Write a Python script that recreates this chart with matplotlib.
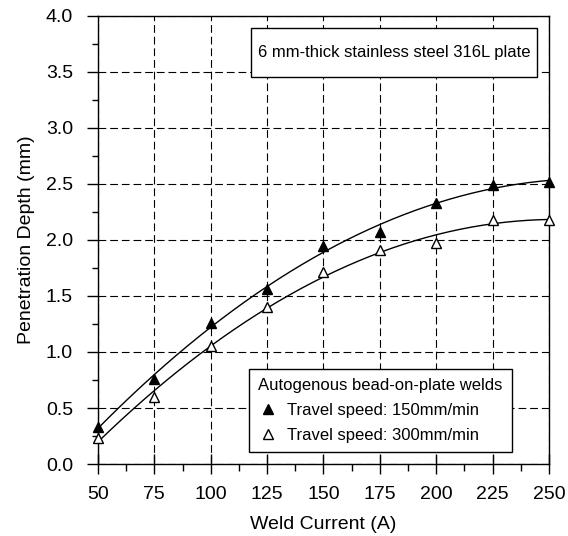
import numpy as np
import matplotlib.pyplot as plt
from matplotlib.lines import Line2D
from matplotlib.patches import Rectangle
from matplotlib.ticker import MultipleLocator

plt.rcParams['font.family'] = ['Liberation Sans', 'DejaVu Sans']

# weld current (A)
current = [50, 75, 100, 125, 150, 175, 200, 225, 250]
# penetration depth (mm)
depth_150 = [0.33, 0.76, 1.26, 1.56, 1.95, 2.07, 2.33, 2.49, 2.52]
depth_300 = [0.23, 0.60, 1.05, 1.40, 1.71, 1.91, 1.97, 2.18, 2.18]

labels = ['Travel speed: 150mm/min', 'Travel speed: 300mm/min']


def main():
    fig = plt.figure(figsize=(5.68, 5.36), dpi=100)
    ax = fig.add_axes([0.1725, 0.1343, 0.794, 0.836])

    # quadratic trend lines through each series
    xs = np.linspace(current[0], current[-1], 200)
    for ys in (depth_150, depth_300):
        coef = np.polyfit(current, ys, 2)
        ax.plot(xs, np.polyval(coef, xs), color='black', lw=1.0, zorder=3)

    ax.plot(current, depth_150, ls='none', marker='^', ms=7.5,
            mfc='black', mec='black', zorder=4, clip_on=False)
    ax.plot(current, depth_300, ls='none', marker='^', ms=7.5,
            mfc='white', mec='black', mew=1.0, zorder=4, clip_on=False)

    ax.set_xlim(50, 250)
    ax.set_ylim(0, 4.0)
    ax.xaxis.set_major_locator(MultipleLocator(25))
    ax.xaxis.set_minor_locator(MultipleLocator(12.5))
    ax.yaxis.set_major_locator(MultipleLocator(0.5))
    ax.yaxis.set_minor_locator(MultipleLocator(0.25))
    ax.yaxis.set_major_formatter(plt.FormatStrFormatter('%.1f'))

    ax.grid(True, which='major', color='black', linestyle=(0, (7, 3.5)),
            linewidth=0.8)
    ax.set_axisbelow(True)

    for sp in ax.spines.values():
        sp.set_linewidth(1.0)

    ax.tick_params(axis='x', which='major', direction='inout', length=14,
                   width=1.0, pad=9, labelsize=14)
    ax.tick_params(axis='x', which='minor', direction='out', length=5,
                   width=1.0)
    ax.tick_params(axis='y', which='major', direction='out', length=8,
                   width=1.0, pad=10, labelsize=14)
    ax.tick_params(axis='y', which='minor', direction='out', length=4.5,
                   width=1.0)

    ax.set_xlabel('Weld Current (A)', fontsize=14, labelpad=9)
    ax.set_ylabel('Penetration Depth (mm)', fontsize=14, labelpad=8)

    # note box at the top right
    ax.add_patch(Rectangle((0.339, 0.864), 0.634, 0.109,
                           transform=ax.transAxes, fc='white', ec='black',
                           lw=1.0, zorder=5))
    ax.text(0.656, 0.9185, '6 mm-thick stainless steel 316L plate',
            transform=ax.transAxes, ha='center', va='center', fontsize=12,
            zorder=6)

    handles = [
        Line2D([], [], ls='none', marker='^', ms=7.5, mfc='black', mec='black'),
        Line2D([], [], ls='none', marker='^', ms=7.5, mfc='white', mec='black'),
    ]
    leg = ax.legend(handles, labels, title='Autogenous bead-on-plate welds',
                    loc='lower left', bbox_to_anchor=(0.335, 0.027),
                    fontsize=12, title_fontsize=12, frameon=True,
                    fancybox=False, framealpha=1, edgecolor='black',
                    handlelength=1.2, handletextpad=0.55, borderpad=0.55,
                    labelspacing=0.6, borderaxespad=0)
    leg._legend_box.align = 'left'
    leg.get_frame().set_linewidth(1.0)
    leg.set_zorder(6)

    plt.savefig('out.png', dpi=100)
    plt.close()


if __name__ == "__main__":
    main()
